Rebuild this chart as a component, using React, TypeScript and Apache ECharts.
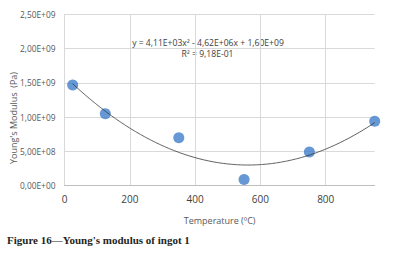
import React, { useEffect, useRef } from "react";
import * as echarts from "echarts";

const temperatures = [25, 125, 350, 550, 750, 950];
const modulus = [1.47e9, 1.05e9, 0.70e9, 0.09e9, 0.49e9, 0.94e9];
// displayed polynomial trendline coefficients (a x^2 + b x + c)
const trendCoefficients = [4.11e3, -4.62e6, 1.6e9];
const trendRange = [25, 950];
const xTicks = [0, 200, 400, 600, 800];
const equationText = "y = 4,11E+03x² - 4,62E+06x + 1,60E+09";
const r2Text = "R² = 9,18E-01";
const caption = "Figure 16—Young's modulus of ingot 1";

function sci(v: number): string {
  if (v === 0) return "0,00E+00";
  const e = Math.floor(Math.log10(Math.abs(v)) + 1e-9);
  const m = v / Math.pow(10, e);
  const es = (e < 0 ? "-" : "+") + String(Math.abs(e)).padStart(2, "0");
  return m.toFixed(2).replace(".", ",") + "E" + es;
}

export default function App() {
  const ref = useRef<HTMLDivElement>(null);
  useEffect(() => {
    if (!ref.current) return;
    const chart = echarts.init(ref.current, null, { renderer: "svg" });
    const [a, b, c] = trendCoefficients;
    const trend: number[][] = [];
    const steps = 60;
    for (let i = 0; i <= steps; i++) {
      const x = trendRange[0] + ((trendRange[1] - trendRange[0]) * i) / steps;
      trend.push([x, a * x * x + b * x + c]);
    }
    chart.setOption({
      animation: false,
      grid: { left: 64.5, top: 14.3, width: 310.2, height: 171.4, containLabel: false },
      xAxis: {
        type: "value",
        min: 0,
        max: 950,
        interval: 200,
        axisLine: { show: true, lineStyle: { color: "#BFBFBF", width: 1 } },
        axisTick: { show: false },
        splitLine: { show: true, showMaxLine: false, lineStyle: { color: "#D9D9D9", width: 1 } },
        axisLabel: {
          fontFamily: "Open Sans",
          fontSize: 10,
          color: "#404040",
          margin: 8,
          showMaxLabel: false,
          formatter: (v: number) => (xTicks.includes(v) ? String(v) : ""),
        },
        name: "Temperature (ºC)",
        nameLocation: "middle",
        nameGap: 30,
        nameTextStyle: { fontFamily: "Open Sans", fontSize: 9, color: "#595959" },
      },
      yAxis: {
        type: "value",
        min: 0,
        max: 2.5e9,
        interval: 5e8,
        axisLine: { show: true, lineStyle: { color: "#D9D9D9", width: 1 } },
        axisTick: { show: false },
        splitLine: { show: true, lineStyle: { color: "#D9D9D9", width: 1 } },
        axisLabel: {
          fontFamily: "Open Sans",
          fontSize: 8.4,
          color: "#595959",
          margin: 9,
          formatter: (v: number) => sci(v),
        },
      },
      series: [
        {
          type: "scatter",
          data: temperatures.map((t, i) => [t, modulus[i]]),
          symbolSize: 11,
          itemStyle: { color: "#3F7ECB" },
          z: 2,
        },
        {
          type: "line",
          data: trend,
          showSymbol: false,
          smooth: true,
          lineStyle: { color: "#333333", width: 0.8 },
          z: 3,
        },
      ],
      graphic: [
        {
          type: "text",
          x: 13,
          y: 118,
          rotation: Math.PI / 2,
          style: {
            text: "Young's Modulus  (Pa)",
            fontFamily: "Open Sans",
            fontSize: 9,
            fill: "#595959",
            align: "center",
            verticalAlign: "middle",
          },
        },
        {
          type: "text",
          x: 208,
          y: 42.7,
          style: {
            text: equationText,
            fontFamily: "Open Sans",
            fontSize: 8.6,
            fill: "#404040",
            align: "center",
            verticalAlign: "middle",
          },
        },
        {
          type: "text",
          x: 207.5,
          y: 54.3,
          style: {
            text: r2Text,
            fontFamily: "Open Sans",
            fontSize: 8.6,
            fill: "#404040",
            align: "center",
            verticalAlign: "middle",
          },
        },
        {
          type: "text",
          x: 7,
          y: 240,
          style: {
            text: caption,
            fontFamily: "Liberation Serif",
            fontWeight: "bold",
            fontSize: 11,
            fill: "#231F20",
            align: "left",
            verticalAlign: "middle",
          },
        },
      ],
    });
    return () => chart.dispose();
  }, []);
  return (
    <div
      ref={ref}
      style={{ position: "fixed", left: 0, top: 0, width: 406, height: 253, background: "#fff" }}
    />
  );
}
